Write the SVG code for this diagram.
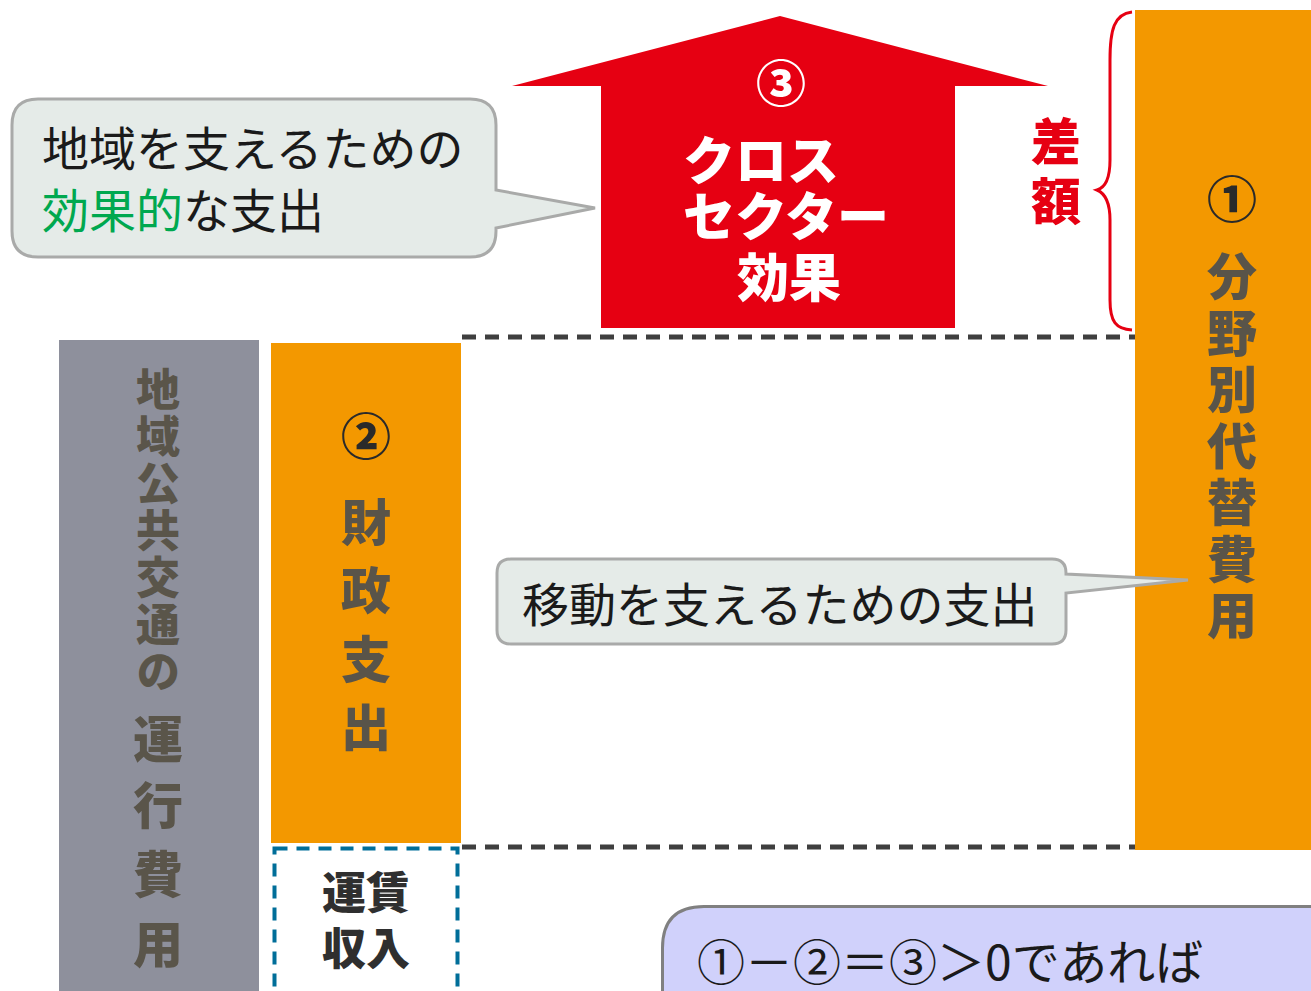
<svg xmlns="http://www.w3.org/2000/svg" width="1311" height="991" viewBox="0 0 1311 991">
<style>
.jp{font-family:"Noto Sans CJK JP","Noto Sans",sans-serif}
.vt{font-family:"Noto Sans CJK JP",sans-serif;font-weight:900;text-anchor:middle}
.vw{font-family:"Noto Sans CJK JP",sans-serif;font-weight:900;writing-mode:vertical-rl;text-anchor:start}
.callout{fill:#e5ebe8;stroke:#a9aaa9;stroke-width:3}
.dash{stroke:#3f3f3f;stroke-width:5;stroke-dasharray:14 9;fill:none}
</style>
<rect width="1311" height="991" fill="#ffffff"/>

<g id="connectors">
<path class="dash" d="M462,337 H1135"/>
<path class="dash" d="M462,847 H1135"/>
<path id="brace" d="M1132,12 C1114,14 1110,30 1110,60 L1110,160 C1110,180 1104,188 1097,190 C1104,193 1110,200 1110,220 L1110,300 C1110,322 1116,329 1132,330" fill="none" stroke="#e60012" stroke-width="3"/>
</g>

<g id="node-total">
<rect x="1135" y="10" width="176" height="840" fill="#f39800"/>
<text class="vt" x="1232" y="218" font-size="50" fill="#2a2a2a">①</text>
<text class="vw" x="1232" y="251" font-size="50" letter-spacing="6.5" fill="#595449">分野別代替費用</text>
</g>

<g id="node-cross">
<polygon points="780,16 1048,86 955,86 955,328 601,328 601,86 512,86" fill="#e60012"/>
<text class="vt" x="781" y="102" font-size="50" fill="#ffffff">③</text>
<text class="jp" font-size="52" font-weight="900" fill="#ffffff"><tspan x="683" y="180">クロス</tspan><tspan x="683" y="236">セクター</tspan><tspan x="737" y="297">効果</tspan></text>
</g>

<g id="node-diff">
<text class="vt" font-size="50" fill="#e60012"><tspan x="1056" y="160">差</tspan><tspan x="1056" y="220">額</tspan></text>
</g>

<g id="node-callout-effective">
<path class="callout" d="M38,99 H470 Q496,99 496,125 V190 L595,208 L496,228 V231 Q496,257 470,257 H38 Q12,257 12,231 V125 Q12,99 38,99 Z"/>
<text class="jp" font-size="47" fill="#1a1a1a"><tspan x="42" y="166">地域を支えるための</tspan><tspan x="42" y="228" fill="#00a84f">効果的</tspan><tspan>な支出</tspan></text>
</g>

<g id="node-operating-cost">
<rect x="59" y="340" width="200" height="651" fill="#8e909c"/>
<text class="vw" x="158" y="367" font-size="44" letter-spacing="3" fill="#5a554a">地域公共交通の</text>
<g class="vt" font-size="50" fill="#5a554a">
<text x="158" y="758">運</text>
<text x="158" y="824">行</text>
<text x="158" y="893">費</text>
<text x="158" y="963">用</text>
</g>
</g>

<g id="node-fiscal">
<rect x="271" y="343" width="190" height="500" fill="#f39800"/>
<text class="vt" x="366" y="455" font-size="50" fill="#2a2a2a">②</text>
<g class="vt" font-size="50" fill="#595449">
<text x="366" y="541">財</text>
<text x="366" y="609">政</text>
<text x="366" y="678">支</text>
<text x="366" y="746">出</text>
</g>
</g>

<g id="node-fare">
<rect x="274.5" y="848.5" width="183" height="150" fill="none" stroke="#006e99" stroke-width="4" stroke-dasharray="13 9"/>
<text class="vt" font-size="44" fill="#2f2f2f"><tspan x="366" y="909">運賃</tspan><tspan x="366" y="965">収入</tspan></text>
</g>

<g id="node-callout-mobility">
<path class="callout" d="M511,559 H1052 Q1066,559 1066,573 V574 L1188,580 L1066,593 V630 Q1066,644 1052,644 H511 Q497,644 497,630 V573 Q497,559 511,559 Z"/>
<text class="jp" x="522" y="622" font-size="47" fill="#1a1a1a">移動を支えるための支出</text>
</g>

<g id="node-condition">
<path d="M704,906.5 H1320 V1000 H662.5 V948 Q662.5,906.5 704,906.5 Z" fill="#d0d1fb" stroke="#808080" stroke-width="3"/>
<text class="jp" x="697" y="980" font-size="48" fill="#1a1a1a">①－②＝③＞0であれば</text>
</g>
</svg>
